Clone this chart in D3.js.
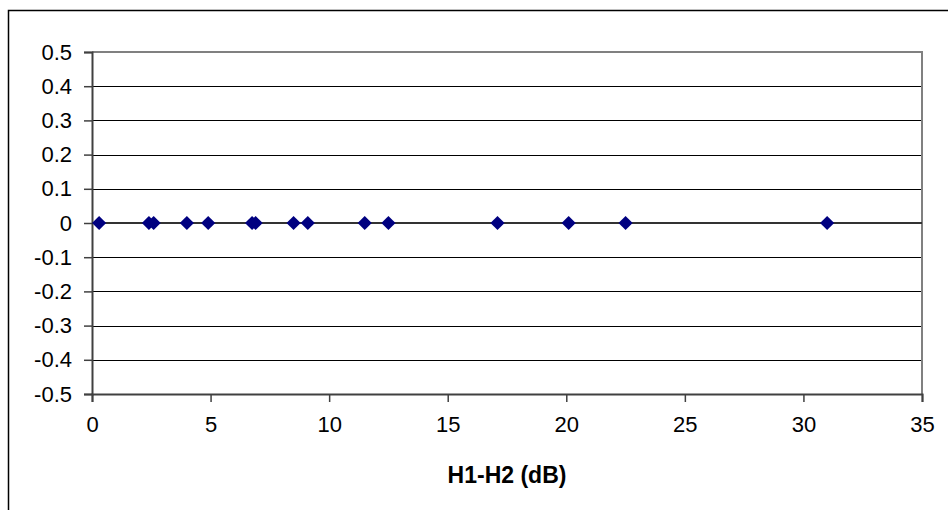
<!DOCTYPE html>
<html><head><meta charset="utf-8">
<script src="https://cdn.jsdelivr.net/npm/d3@7"></script>
<style>html,body{margin:0;padding:0;background:#fff;}svg{display:block;}</style>
</head><body>
<script>
const xValues = [0.3, 2.4, 2.6, 4.0, 4.9, 6.75, 6.9, 8.5, 9.1, 11.5, 12.5, 17.1, 20.1, 22.5, 31.0];
const yValues = [0, 0, 0, 0, 0, 0, 0, 0, 0, 0, 0, 0, 0, 0, 0];
const xTicks = [0, 5, 10, 15, 20, 25, 30, 35];
const yTicks = [0.5, 0.4, 0.3, 0.2, 0.1, 0, -0.1, -0.2, -0.3, -0.4, -0.5];
const xTitle = "H1-H2 (dB)";

(function () {
const W = 948, H = 510;
const svg = d3.select("body").append("svg").attr("width", W).attr("height", H);
const pLeft = 92, pRight = 922, pTop = 52, pBottom = 394;
const x = d3.scaleLinear().domain([0, 35]).range([pLeft, pRight]);
const y = d3.scaleLinear().domain([-0.5, 0.5]).range([pBottom, pTop]);

svg.append("rect").attr("x", 8.5).attr("y", 10.5).attr("width", W + 20).attr("height", H + 20)
  .attr("fill", "none").attr("stroke", "#000").attr("stroke-width", 1.5);

svg.append("g").selectAll("line").data(yTicks.filter(d => d !== 0.5 && d !== -0.5)).join("line")
  .attr("x1", pLeft).attr("x2", pRight).attr("y1", d => Math.round(y(d)) + 0.5).attr("y2", d => Math.round(y(d)) + 0.5)
  .attr("stroke", "#000").attr("stroke-width", 1);

svg.append("line").attr("x1", pLeft).attr("x2", pRight + 1).attr("y1", pTop).attr("y2", pTop)
  .attr("stroke", "#808080").attr("stroke-width", 2);
svg.append("line").attr("x1", pRight).attr("x2", pRight).attr("y1", pTop).attr("y2", pBottom)
  .attr("stroke", "#808080").attr("stroke-width", 2);

const font = "'Liberation Sans', Arial, sans-serif";
const fmt = d => String(d);

const yAxis = d3.axisLeft(y).tickValues(yTicks).tickSize(8).tickPadding(12).tickFormat(fmt);
const gy = svg.append("g").attr("transform", `translate(${pLeft},0)`).call(yAxis);
gy.select(".domain").attr("stroke", "#404040").attr("stroke-width", 2);
gy.selectAll(".tick line").attr("stroke", "#404040").attr("stroke-width", 1.5);
gy.selectAll(".tick text").attr("font-family", font).attr("font-size", 22).attr("fill", "#000");

const xAxis = d3.axisBottom(x).tickValues(xTicks).tickSize(8).tickPadding(14).tickFormat(fmt);
const gx = svg.append("g").attr("transform", `translate(0,${pBottom})`).call(xAxis);
gx.select(".domain").attr("stroke", "#404040").attr("stroke-width", 2);
gx.selectAll(".tick line").attr("stroke", "#404040").attr("stroke-width", 1.5);
gx.selectAll(".tick text").attr("font-family", font).attr("font-size", 22).attr("fill", "#000");

svg.append("line").attr("x1", pLeft).attr("x2", pRight).attr("y1", y(0)).attr("y2", y(0))
  .attr("stroke", "#333").attr("stroke-width", 2);

svg.append("text").attr("x", (pLeft + pRight) / 2).attr("y", 483).attr("text-anchor", "middle")
  .attr("font-family", font).attr("font-size", 23).attr("font-weight", "bold").text(xTitle);

svg.append("g").selectAll("path").data(xValues.map((v, i) => [v, yValues[i]])).join("path")
  .attr("transform", d => `translate(${x(d[0])},${y(d[1])}) rotate(45)`)
  .attr("d", d3.symbol().type(d3.symbolSquare).size(100))
  .attr("fill", "#000080");
})();
</script>
</body></html>
